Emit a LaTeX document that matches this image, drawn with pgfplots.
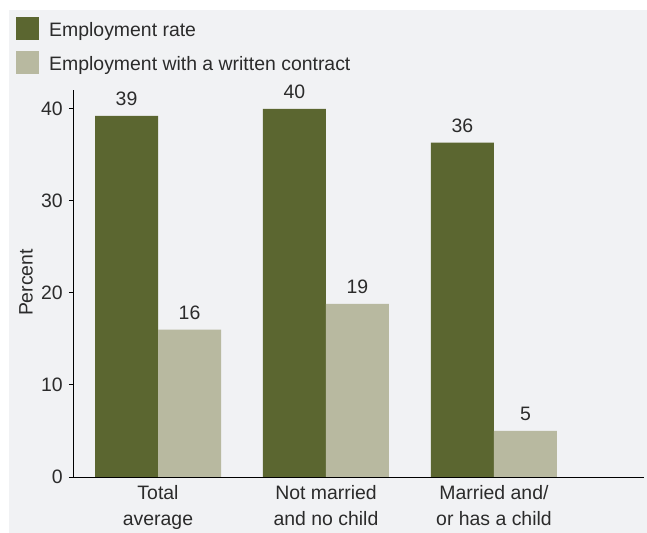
\documentclass[border=0pt]{standalone}
\usepackage{pgfplots}
\pgfplotsset{compat=1.18}
\usepackage{fontspec}
\setmainfont{Liberation Sans}
\definecolor{bg}{HTML}{F1F2F4}
\definecolor{darkg}{HTML}{5B6630}
\definecolor{lightg}{HTML}{B8B9A0}
\definecolor{txt}{HTML}{2B2B2B}
\begin{document}
\begin{tikzpicture}[font=\fontsize{19.5}{26}\selectfont]
\useasboundingbox (-73bp,-56bp) rectangle (574bp,477bp);
\fill[white] (-73bp,-56bp) rectangle (574bp,477bp);
\fill[bg] (-64bp,-56bp) rectangle (574bp,467bp);
\begin{axis}[
  at={(0,0)}, anchor=south west,
  scale only axis, width=571bp, height=387bp,
  /pgf/number format/assume math mode=true,
  ybar=0pt, bar width=63bp,
  xmin=-0.506, xmax=2.893, ymin=0, ymax=42,
  axis x line*=bottom, axis y line*=left,
  axis line style={black, line width=1bp},
  xtick={0,1,2},
  xticklabels={{Total\\average},{Not married\\and no child},{Married and/\\or has a child}},
  xticklabel style={align=center, text=txt, inner sep=0pt, yshift=-4bp},
  xtick style={draw=none},
  ytick={0,10,20,30,40},
  tick align=outside, major tick length=4bp,
  ytick style={black, line width=1bp},
  yticklabel style={text=txt, inner sep=0pt, xshift=-6bp},
  ylabel={Percent},
  ylabel style={at={(axis description cs:-0.0823,0.5026)}, anchor=center, inner sep=0pt, text=txt},
  nodes near coords={\pgfmathprintnumber[fixed,precision=0]{\pgfplotspointmeta}},
  every node near coord/.append style={text=txt, inner sep=0pt, anchor=south, yshift=10bp},
  legend style={at={(axis description cs:-0.09982,1.18863)}, anchor=north west, draw=none, fill=none, inner sep=0pt, row sep=11bp, text=txt,
    nodes={inner sep=0pt, text height=19.7bp, text depth=3.3bp}, /tikz/every odd column/.style={column sep=10bp}},
  legend cell align=left,
  legend image code/.code={\fill[#1,draw=none] (0bp,-11.5bp) rectangle (23bp,11.5bp);},
]
\addplot[fill=darkg, draw=none, bar shift=-31.5bp] coordinates {(0,39.2) (1,39.96) (2,36.3)};
\addlegendentry{Employment rate}
\addplot[fill=lightg, draw=none, bar shift=31.5bp] coordinates {(0,16.0) (1,18.8) (2,5.0)};
\addlegendentry{Employment with a written contract}
\end{axis}
\end{tikzpicture}
\end{document}
